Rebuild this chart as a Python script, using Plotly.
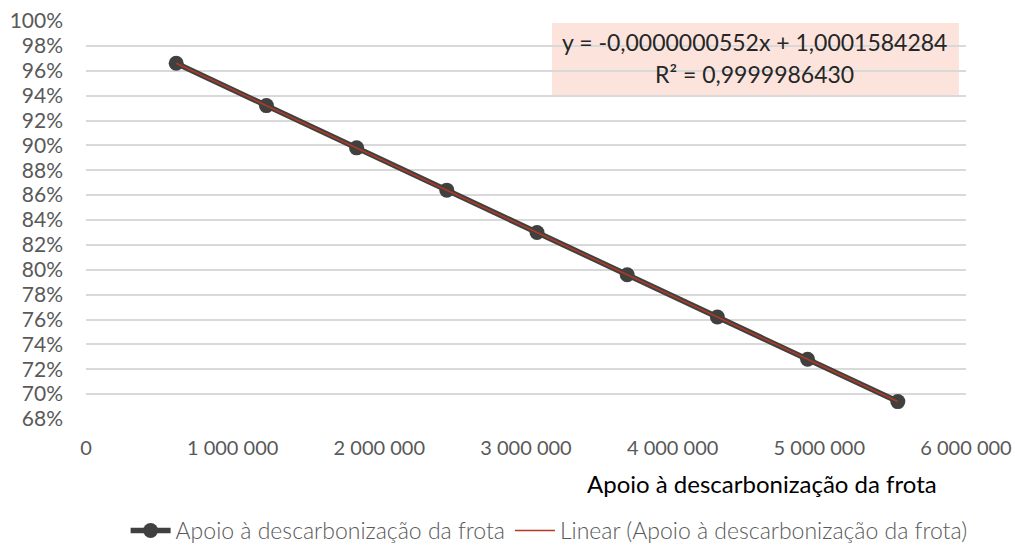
import numpy as np
import plotly.graph_objects as go

# Data
x_vals = [615000, 1230000, 1845000, 2460000, 3075000, 3690000, 4305000, 4920000, 5535000]
y_vals = [0.966, 0.932, 0.898, 0.864, 0.830, 0.796, 0.762, 0.728, 0.694]
series_name = "Apoio à descarbonização da frota"
trend_name = "Linear (Apoio à descarbonização da frota)"
eq_line1 = "y = -0,0000000552x + 1,0001584284"
eq_line2 = "R² = 0,9999986430"
x_ticks = [0, 1000000, 2000000, 3000000, 4000000, 5000000, 6000000]
x_tick_text = ["0", "1 000 000", "2 000 000", "3 000 000", "4 000 000", "5 000 000", "6 000 000"]

# Linear trendline fitted from the data
slope, intercept = np.polyfit(x_vals, y_vals, 1)
tx = np.array([min(x_vals), max(x_vals)])
ty = slope * tx + intercept

FONT = "Lato, 'Open Sans', sans-serif"

fig = go.Figure()
fig.add_trace(go.Scatter(
    x=x_vals, y=y_vals, mode="lines+markers", name=series_name,
    line=dict(color="#404040", width=5.5),
    marker=dict(color="#404040", size=15, symbol="circle"),
))
fig.add_trace(go.Scatter(
    x=tx, y=ty, mode="lines", name=trend_name,
    line=dict(color="#B23A24", width=1.6),
))

fig.add_shape(type="rect", xref="paper", yref="paper",
              x0=0.5295, x1=0.992, y0=0.814, y1=0.995,
              fillcolor="#FCE4DD", line=dict(width=0), layer="below")
fig.add_annotation(xref="paper", yref="paper", x=0.760, y=0.947, text=eq_line1,
                   xanchor="center", yanchor="middle",
                   showarrow=False, font=dict(family=FONT, size=23, color="#262626"))
fig.add_annotation(xref="paper", yref="paper", x=0.760, y=0.867, text=eq_line2,
                   xanchor="center", yanchor="middle",
                   showarrow=False, font=dict(family=FONT, size=23, color="#262626"))
fig.add_annotation(xref="paper", yref="paper", x=0.768, y=-0.161, text=series_name,
                   xanchor="center", yanchor="middle",
                   showarrow=False, font=dict(family=FONT, size=24, color="#000000"))

fig.update_layout(
    width=1015, height=552,
    margin=dict(l=86, r=49, t=21, b=133),
    paper_bgcolor="white", plot_bgcolor="white",
    font=dict(family=FONT, color="#595959"),
    separators=", ",
    showlegend=True,
    legend=dict(orientation="h", x=0.541, xref="container", xanchor="center",
                y=0.0, yref="container", yanchor="bottom",
                font=dict(family=FONT, size=23, color="#595959", weight=300),
                itemwidth=40, traceorder="normal"),
    xaxis=dict(range=[0, 6000000], tickvals=x_ticks, ticktext=x_tick_text,
               showgrid=False, zeroline=False, showline=False, automargin=False,
               ticklabelstandoff=15,
               tickfont=dict(family=FONT, size=20, color="#595959"), ticks=""),
    yaxis=dict(range=[0.68, 1.0], dtick=0.02, tick0=0.68, tickformat=".0%",
               showgrid=True, gridcolor="#D9D9D9", gridwidth=1.5, automargin=False,
               zeroline=False, showline=False, ticks="", ticklabelstandoff=22,
               tickfont=dict(family=FONT, size=21, color="#595959")),
)

fig.write_html("out.html", config={"displayModeBar": False},
               post_script="document.body.style.margin='0';")
